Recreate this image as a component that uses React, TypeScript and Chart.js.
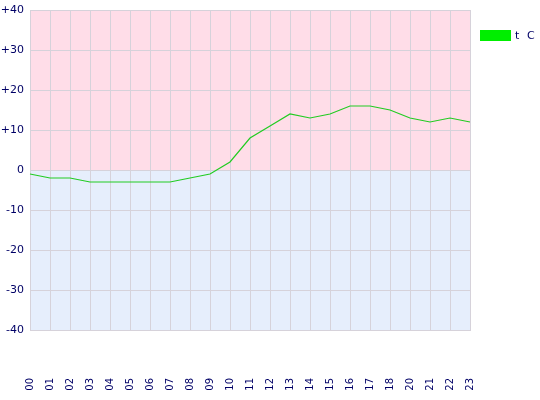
import React, { useEffect, useRef } from "react";
import { Chart, registerables } from "chart.js";

Chart.register(...registerables);

const hours = ["00","01","02","03","04","05","06","07","08","09","10","11","12","13","14","15","16","17","18","20","21","22","23"];
const temps = [-1,-2,-2,-3,-3,-3,-3,-3,-2,-1,2,8,11,14,13,14,16,16,15,13,12,13,12];
const seriesName = "t C";
const yMin = -40;
const yMax = 40;
const yStep = 10;

const textColor = "#000066";
const fontFamily = "'DejaVu Sans', Verdana, sans-serif";

const bandsPlugin = {
  id: "bands",
  beforeDraw(chart: any) {
    const { ctx, chartArea, scales } = chart;
    const y0 = scales.y.getPixelForValue(0);
    ctx.save();
    ctx.fillStyle = "#ffdde8";
    ctx.fillRect(chartArea.left, chartArea.top, chartArea.right - chartArea.left, y0 - chartArea.top);
    ctx.fillStyle = "#e6eefc";
    ctx.fillRect(chartArea.left, y0, chartArea.right - chartArea.left, chartArea.bottom - y0);
    ctx.restore();
  },
};

const legendPlugin = {
  id: "customLegend",
  afterDraw(chart: any) {
    const { ctx, chartArea } = chart;
    const x = chartArea.right + 10;
    const y = chartArea.top + 20;
    ctx.save();
    ctx.fillStyle = "#00ee00";
    ctx.fillRect(x, y, 31, 11);
    ctx.fillStyle = textColor;
    ctx.font = "11px " + fontFamily;
    ctx.textBaseline = "middle";
    ctx.textAlign = "left";
    const parts = seriesName.split(" ");
    let tx = x + 35;
    parts.forEach((p) => {
      ctx.fillText(p, tx, y + 6);
      tx += 12;
    });
    ctx.restore();
  },
};

export default function App() {
  const ref = useRef<HTMLCanvasElement>(null);
  useEffect(() => {
    if (!ref.current) return;
    const chart = new Chart(ref.current, {
      type: "line",
      data: {
        labels: hours,
        datasets: [
          {
            label: seriesName,
            data: temps,
            borderColor: "#22cc22",
            borderWidth: 1.2,
            pointRadius: 0,
            tension: 0,
            fill: false,
          },
        ],
      },
      options: {
        animation: false,
        responsive: false,
        layout: { padding: { top: 10, right: 70, left: 0, bottom: 0 } },
        plugins: { legend: { display: false }, tooltip: { enabled: false } },
        scales: {
          x: {
            type: "category",
            offset: false,
            grid: { color: "#d6d2da", drawTicks: false, lineWidth: 1 },
            border: { color: "#d6d2da" },
            ticks: {
              color: textColor,
              font: { size: 10, family: fontFamily },
              minRotation: 90,
              maxRotation: 90,
              autoSkip: false,
              padding: 48,
            },
            afterFit(scale: any) {
              scale.height = 70;
              scale.paddingLeft = 0;
              scale.paddingRight = 0;
            },
          },
          y: {
            min: yMin,
            max: yMax,
            grid: { color: "#d6d2da", drawTicks: false, lineWidth: 1 },
            border: { color: "#d6d2da" },
            ticks: {
              stepSize: yStep,
              color: textColor,
              font: { size: 11, family: fontFamily },
              padding: 6,
              callback: (v: any) => (v > 0 ? "+" + v : String(v)),
            },
            afterFit(scale: any) {
              scale.width = 30;
              scale.paddingTop = 0;
              scale.paddingBottom = 0;
            },
          },
        },
      },
      plugins: [bandsPlugin, legendPlugin],
    });
    return () => chart.destroy();
  }, []);
  return (
    <div style={{ position: "fixed", left: 0, top: 0, width: 540, height: 400, background: "#fff" }}>
      <canvas ref={ref} width={540} height={400} style={{ width: 540, height: 400, display: "block" }} />
    </div>
  );
}
